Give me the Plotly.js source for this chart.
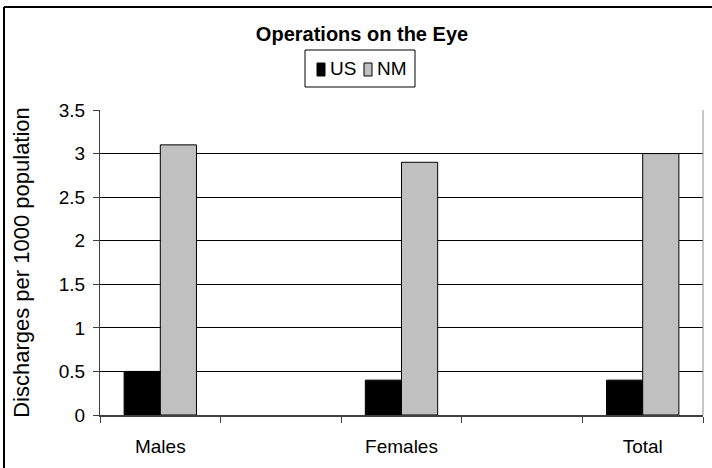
<!DOCTYPE html>
<html>
<head>
<meta charset="utf-8">
<script src="https://cdn.plot.ly/plotly-3.0.1.min.js"></script>
<style>html,body{margin:0;padding:0;background:#fff;}#chart{width:712px;height:468px;}</style>
</head>
<body>
<div id="chart"></div>
<script>
// Data
var categories = ["Males", " ", "Females", "  ", "Total"];
var seriesNames = ["US", "NM"];
var usValues = [0.5, null, 0.4, null, 0.4];
var nmValues = [3.1, null, 2.9, null, 3.0];
var yTickVals = [0, 0.5, 1, 1.5, 2, 2.5, 3, 3.5];
var yTickText = ["0", "0.5", "1", "1.5", "2", "2.5", "3", "3.5"];
var chartTitle = "Operations on the Eye";
var yTitle = "Discharges per 1000 population";

var FONT = "Liberation Sans, Arial, sans-serif";
var W = 712, H = 468;
var L = 100, R = 9, T = 110, B = 53;
var pw = W - L - R, ph = H - T - B;
function px(x) { return (x - L) / pw; }
function py(y) { return (H - B - y) / ph; }

var colors = ["#000000", "#c0c0c0"];

var traces = [usValues, nmValues].map(function (vals, i) {
  return {
    type: "bar",
    name: seriesNames[i],
    x: categories,
    y: vals,
    marker: { color: colors[i], line: { color: "#000000", width: 1 } },
    showlegend: false,
    hoverinfo: "skip"
  };
});

// custom compact legend (box + swatches + labels)
var shapes = [
  // outer chart border (left and top edges visible)
  { type: "line", xref: "paper", yref: "paper", x0: px(4), x1: px(4), y0: py(7), y1: py(480), line: { color: "#000", width: 2 } },
  { type: "line", xref: "paper", yref: "paper", x0: px(4), x1: px(720), y0: py(7), y1: py(7), line: { color: "#000", width: 2 } },
  // right plot-area edge
  { type: "line", xref: "paper", yref: "paper", x0: 1, x1: 1, y0: 0, y1: 1, line: { color: "#909090", width: 1 } },
  // legend box
  { type: "rect", xref: "paper", yref: "paper", x0: px(305), x1: px(415), y0: py(50), y1: py(87), line: { color: "#000", width: 1 }, fillcolor: "rgba(0,0,0,0)" },
  // swatches
  { type: "rect", xref: "paper", yref: "paper", x0: px(317), x1: px(325), y0: py(63), y1: py(76), line: { color: "#000", width: 1 }, fillcolor: colors[0] },
  { type: "rect", xref: "paper", yref: "paper", x0: px(364), x1: px(372), y0: py(63), y1: py(76), line: { color: "#000", width: 1 }, fillcolor: colors[1] }
];
var annotations = [
  { xref: "paper", yref: "paper", x: px(328), y: py(69), xanchor: "left", yanchor: "middle", text: seriesNames[0], showarrow: false, font: { family: FONT, size: 19, color: "#000" } },
  { xref: "paper", yref: "paper", x: px(375), y: py(69), xanchor: "left", yanchor: "middle", text: seriesNames[1], showarrow: false, font: { family: FONT, size: 19, color: "#000" } }
];

var layout = {
  width: W, height: H,
  margin: { l: L, r: R, t: T, b: B, pad: 0 },
  paper_bgcolor: "#ffffff",
  plot_bgcolor: "#ffffff",
  title: {
    text: "<b>" + chartTitle + "</b>",
    font: { family: FONT, size: 20, color: "#000" },
    x: 362 / W, xref: "container", xanchor: "center",
    y: 1 - 34 / H, yref: "container", yanchor: "middle"
  },
  barmode: "group",
  bargap: 0.4,
  bargroupgap: 0,
  xaxis: {
    type: "category",
    categoryorder: "array",
    categoryarray: categories,
    tickson: "boundaries",
    ticks: "outside", ticklen: 6, tickcolor: "#404040", tickwidth: 1,
    showline: true, linecolor: "#404040", linewidth: 2,
    showgrid: false, zeroline: false,
    tickfont: { family: FONT, size: 19, color: "#000" },
    ticklabelstandoff: 13,
    fixedrange: true
  },
  yaxis: {
    range: [0, 3.5],
    tickvals: yTickVals, ticktext: yTickText,
    ticks: "outside", ticklen: 6, tickcolor: "#404040", tickwidth: 1,
    showline: true, linecolor: "#404040", linewidth: 1,
    showgrid: true, gridcolor: "#000000", gridwidth: 1,
    zeroline: false,
    tickfont: { family: FONT, size: 19, color: "#000" },
    ticklabelstandoff: 4,
    title: { text: yTitle, font: { family: FONT, size: 22, color: "#000" }, standoff: 23 },
    automargin: false,
    fixedrange: true
  },
  shapes: shapes,
  annotations: annotations,
  showlegend: false
};

Plotly.newPlot("chart", traces, layout, { displayModeBar: false, staticPlot: true });
</script>
</body>
</html>
